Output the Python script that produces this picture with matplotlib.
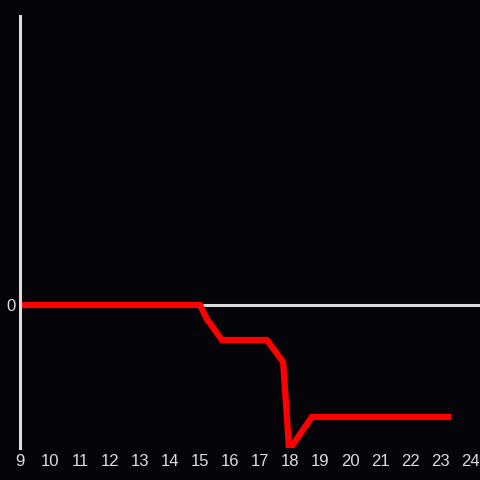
import matplotlib
matplotlib.use('Agg')

import matplotlib.pyplot as plt

# Data (hour of day vs. value)
hours = [9.0, 15.0, 15.23, 15.73, 17.23, 17.77, 17.97, 18.73, 23.27]
values = [0, 0, -14, -35, -35, -57, -145, -112, -112]
xticks = list(range(9, 25))

bg = '#050408'
fg = '#dddddd'

plt.rcParams['font.family'] = ['Liberation Sans', 'DejaVu Sans']

fig = plt.figure(figsize=(4.8, 4.8), dpi=100, facecolor=bg)
ax = fig.add_axes([20 / 480, 32 / 480, 460 / 480, 432 / 480], facecolor=bg)

ax.axhline(0, color=fg, linewidth=2.2, zorder=1)
ax.plot(hours, values, color='#ff0000', linewidth=4.5, solid_joinstyle='miter', zorder=2)

ax.set_xlim(9, 24.333)
ax.set_ylim(-143, 289)

for s in ['top', 'right', 'bottom']:
    ax.spines[s].set_visible(False)
ax.spines['left'].set_color(fg)
ax.spines['left'].set_linewidth(2.2)

ax.set_xticks(xticks)
ax.set_xticklabels([str(t) for t in xticks])
ax.set_yticks([0])
ax.set_yticklabels(['0'])
ax.tick_params(colors=fg, length=0, labelsize=12, pad=4)
ax.tick_params(axis='y', pad=3)

fig.savefig('out.png', facecolor=bg)
